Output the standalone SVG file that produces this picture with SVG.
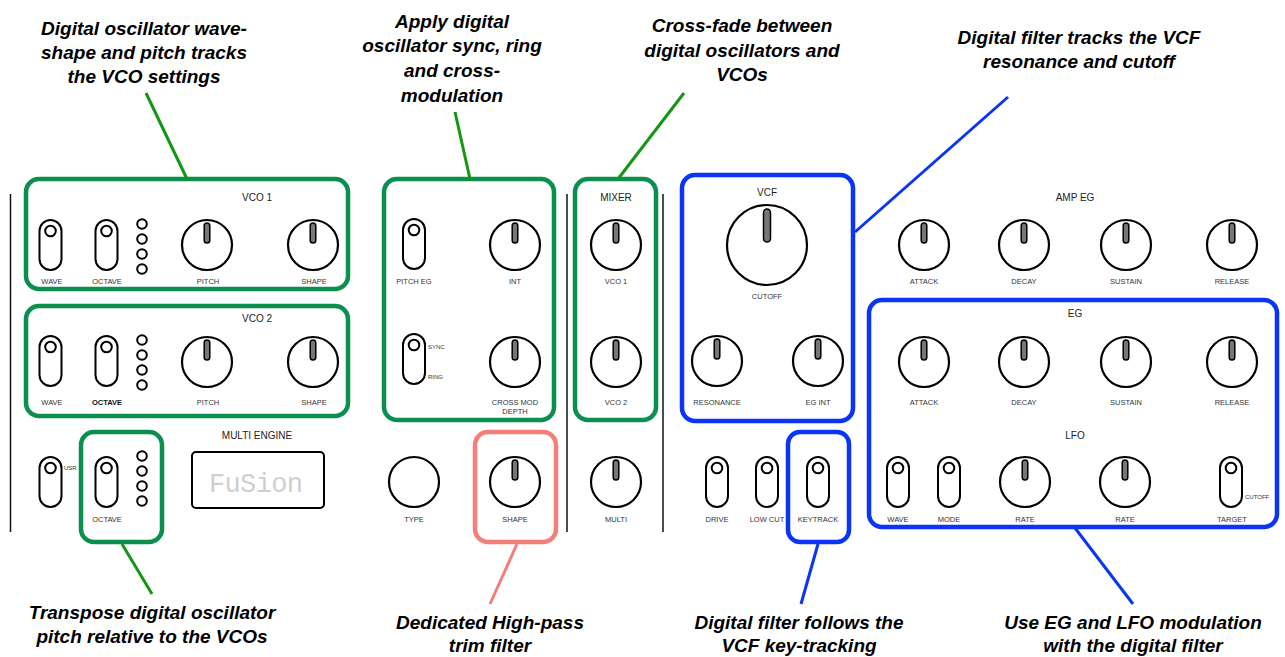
<svg xmlns="http://www.w3.org/2000/svg" width="1285" height="657" viewBox="0 0 1285 657">
<style>
.lbl{font-family:"Liberation Sans",Arial,sans-serif;font-size:7.5px;fill:#333;text-anchor:middle}
.sm{font-family:"Liberation Sans",Arial,sans-serif;font-size:6px;fill:#333}
.ttl{font-family:"Liberation Sans",Arial,sans-serif;font-size:10px;fill:#222;text-anchor:middle}
.ann{font-family:"Liberation Sans",Arial,sans-serif;font-size:19px;font-weight:bold;font-style:italic;fill:#000;text-anchor:middle}
.gbox{fill:none;stroke:#0b8f4e;stroke-width:4.5}
.bbox{fill:none;stroke:#0a35f5;stroke-width:4.5}
.pbox{fill:none;stroke:#f47e7a;stroke-width:4.5}
.div{stroke:#111;stroke-width:1.5}
.led{fill:#fff;stroke:#000;stroke-width:2}
.gl{stroke:#149614;stroke-width:3;fill:none}
.bl{stroke:#0a35f5;stroke-width:3;fill:none}
.pl{stroke:#f47e7a;stroke-width:3;fill:none}
</style>
<defs>
<g id="knob"><circle r="25" fill="#fff" stroke="#000" stroke-width="2.2"/><rect x="-2.8" y="-22" width="5.6" height="20" rx="2.8" fill="#777" stroke="#000" stroke-width="1.5"/></g>
<g id="sw"><rect x="-11" y="0" width="22" height="50" rx="11" fill="#fff" stroke="#000" stroke-width="2"/><circle cx="0" cy="11" r="5.3" fill="#fff" stroke="#000" stroke-width="2"/></g>
<g id="leds"><circle cy="0" r="4.8" class="led"/><circle cy="15" r="4.8" class="led"/><circle cy="30" r="4.8" class="led"/><circle cy="45" r="4.8" class="led"/></g>
</defs>
<rect width="1285" height="657" fill="#fff"/>

<g id="dividers">
<line x1="10.5" y1="194" x2="10.5" y2="532" class="div"/>
<line x1="567" y1="194" x2="567" y2="532" class="div"/>
<line x1="663" y1="194" x2="663" y2="532" class="div"/>
</g>

<g id="vco1">
<rect x="26" y="179" width="322" height="110" rx="13" class="gbox"/>
<text x="257" y="201" class="ttl">VCO 1</text>
<use href="#sw" x="50.5" y="220"/><use href="#sw" x="106.5" y="220"/>
<use href="#leds" x="142" y="224"/>
<use href="#knob" x="207" y="245"/><use href="#knob" x="313" y="245"/>
<text x="52" y="284" class="lbl">WAVE</text><text x="107" y="284" class="lbl">OCTAVE</text>
<text x="208" y="284" class="lbl">PITCH</text><text x="314" y="284" class="lbl">SHAPE</text>
</g>

<g id="vco2">
<rect x="26" y="306" width="322" height="110" rx="13" class="gbox"/>
<text x="257" y="322" class="ttl">VCO 2</text>
<use href="#sw" x="50.5" y="336"/><use href="#sw" x="106.5" y="336"/>
<use href="#leds" x="142" y="340"/>
<use href="#knob" x="207" y="362"/><use href="#knob" x="313" y="362"/>
<text x="52" y="405" class="lbl">WAVE</text><text x="107" y="405" class="lbl" style="font-weight:bold;fill:#111">OCTAVE</text>
<text x="208" y="405" class="lbl">PITCH</text><text x="314" y="405" class="lbl">SHAPE</text>
</g>

<g id="multi-usr">
<use href="#sw" x="50.5" y="457"/>
<text x="64" y="470" class="sm">USR</text>
</g>

<g id="multi-octave">
<rect x="81" y="432" width="81" height="110" rx="13" class="gbox"/>
<use href="#sw" x="106.5" y="457"/>
<use href="#leds" x="142" y="456"/>
<text x="107" y="522" class="lbl">OCTAVE</text>
</g>

<g id="multi-engine">
<text x="257" y="439" class="ttl">MULTI ENGINE</text>
<rect x="192" y="452" width="132" height="56" rx="4" fill="#fff" stroke="#000" stroke-width="2"/>
<text x="209" y="492" font-family="Liberation Mono,monospace" font-size="27" fill="#cfcfcf" textLength="94" lengthAdjust="spacing">FuSion</text>
</g>

<g id="osc-mod">
<rect x="384" y="179" width="170" height="241" rx="13" class="gbox"/>
<use href="#sw" x="414" y="219"/>
<text x="414" y="284" class="lbl">PITCH EG</text>
<use href="#knob" x="515" y="245"/>
<text x="515" y="284" class="lbl">INT</text>
<use href="#sw" x="414" y="334"/>
<text x="428" y="349" class="sm">SYNC</text>
<text x="428" y="379" class="sm">RING</text>
<use href="#knob" x="515" y="362"/>
<text x="515" y="405" class="lbl">CROSS MOD</text>
<text x="515" y="414" class="lbl">DEPTH</text>
</g>

<g id="type">
<circle cx="414" cy="482" r="25" fill="#fff" stroke="#000" stroke-width="2.2"/>
<text x="414" y="522" class="lbl">TYPE</text>
</g>

<g id="hp-shape">
<rect x="475" y="432" width="81" height="110" rx="13" class="pbox"/>
<use href="#knob" x="515" y="482"/>
<text x="515" y="522" class="lbl">SHAPE</text>
</g>

<g id="mixer">
<rect x="575" y="179" width="81" height="241" rx="13" class="gbox"/>
<text x="616" y="201" class="ttl">MIXER</text>
<use href="#knob" x="616" y="245"/>
<text x="616" y="284" class="lbl">VCO 1</text>
<use href="#knob" x="616" y="362"/>
<text x="616" y="405" class="lbl">VCO 2</text>
</g>

<g id="multi">
<use href="#knob" x="616" y="482"/>
<text x="616" y="522" class="lbl">MULTI</text>
</g>

<g id="vcf">
<rect x="682" y="175" width="171" height="246" rx="13" class="bbox"/>
<text x="767" y="196" class="ttl">VCF</text>
<circle cx="767" cy="245" r="40" fill="#fff" stroke="#000" stroke-width="2.2"/>
<rect x="763.5" y="209" width="7" height="33" rx="3.5" fill="#777" stroke="#000" stroke-width="1.5"/>
<text x="767" y="299" class="lbl">CUTOFF</text>
<use href="#knob" x="717" y="361"/>
<text x="717" y="405" class="lbl">RESONANCE</text>
<use href="#knob" x="818" y="361"/>
<text x="818" y="405" class="lbl">EG INT</text>
</g>

<g id="filter-switches">
<use href="#sw" x="717" y="457"/>
<text x="717" y="522" class="lbl">DRIVE</text>
<use href="#sw" x="767" y="457"/>
<text x="767" y="522" class="lbl">LOW CUT</text>
</g>

<g id="keytrack">
<rect x="788" y="432" width="61" height="110" rx="12" class="bbox"/>
<use href="#sw" x="818" y="457"/>
<text x="818" y="522" class="lbl">KEYTRACK</text>
</g>

<g id="amp-eg">
<text x="1075" y="201" class="ttl">AMP EG</text>
<use href="#knob" x="924" y="245"/><use href="#knob" x="1024" y="245"/><use href="#knob" x="1126" y="245"/><use href="#knob" x="1232" y="245"/>
<text x="924" y="284" class="lbl">ATTACK</text><text x="1024" y="284" class="lbl">DECAY</text>
<text x="1126" y="284" class="lbl">SUSTAIN</text><text x="1232" y="284" class="lbl">RELEASE</text>
</g>

<g id="eg-lfo">
<rect x="869" y="300" width="408" height="227" rx="13" class="bbox"/>
<text x="1075" y="317" class="ttl">EG</text>
<use href="#knob" x="924" y="362"/><use href="#knob" x="1024" y="362"/><use href="#knob" x="1126" y="362"/><use href="#knob" x="1232" y="362"/>
<text x="924" y="405" class="lbl">ATTACK</text><text x="1024" y="405" class="lbl">DECAY</text>
<text x="1126" y="405" class="lbl">SUSTAIN</text><text x="1232" y="405" class="lbl">RELEASE</text>
<text x="1075" y="439" class="ttl">LFO</text>
<use href="#sw" x="898" y="457"/><use href="#sw" x="949" y="457"/>
<use href="#knob" x="1025" y="482"/><use href="#knob" x="1125" y="482"/>
<use href="#sw" x="1231" y="457"/>
<text x="1245" y="499" class="sm">CUTOFF</text>
<text x="898" y="522" class="lbl">WAVE</text><text x="949" y="522" class="lbl">MODE</text>
<text x="1025" y="522" class="lbl">RATE</text><text x="1125" y="522" class="lbl">RATE</text>
<text x="1232" y="522" class="lbl">TARGET</text>
</g>

<g id="connectors">
<line x1="146" y1="93" x2="187" y2="179" class="gl"/>
<line x1="455" y1="112" x2="470" y2="179" class="gl"/>
<line x1="684" y1="93" x2="618" y2="179" class="gl"/>
<line x1="1008" y1="97" x2="855" y2="232" class="bl"/>
<line x1="122" y1="544" x2="152" y2="594" class="gl"/>
<line x1="517" y1="544" x2="490" y2="604" class="pl"/>
<line x1="818" y1="544" x2="801" y2="604" class="bl"/>
<line x1="1075" y1="528" x2="1133" y2="604" class="bl"/>
</g>

<g id="annotations">
<text class="ann"><tspan x="144" y="35">Digital oscillator wave-</tspan><tspan x="144" y="59">shape and pitch tracks</tspan><tspan x="144" y="83">the VCO settings</tspan></text>
<text class="ann"><tspan x="452" y="28">Apply digital</tspan><tspan x="452" y="52">oscillator sync, ring</tspan><tspan x="452" y="77">and cross-</tspan><tspan x="452" y="102">modulation</tspan></text>
<text class="ann"><tspan x="742" y="32">Cross-fade between</tspan><tspan x="742" y="57">digital oscillators and</tspan><tspan x="742" y="81">VCOs</tspan></text>
<text class="ann"><tspan x="1079" y="44">Digital filter tracks the VCF</tspan><tspan x="1079" y="68">resonance and cutoff</tspan></text>
<text class="ann"><tspan x="152" y="619">Transpose digital oscillator</tspan><tspan x="152" y="643">pitch relative to the VCOs</tspan></text>
<text class="ann"><tspan x="490" y="629">Dedicated High-pass</tspan><tspan x="490" y="652">trim filter</tspan></text>
<text class="ann"><tspan x="799" y="629">Digital filter follows the</tspan><tspan x="799" y="652">VCF key-tracking</tspan></text>
<text class="ann"><tspan x="1133" y="629">Use EG and LFO modulation</tspan><tspan x="1133" y="652">with the digital filter</tspan></text>
</g>
</svg>
